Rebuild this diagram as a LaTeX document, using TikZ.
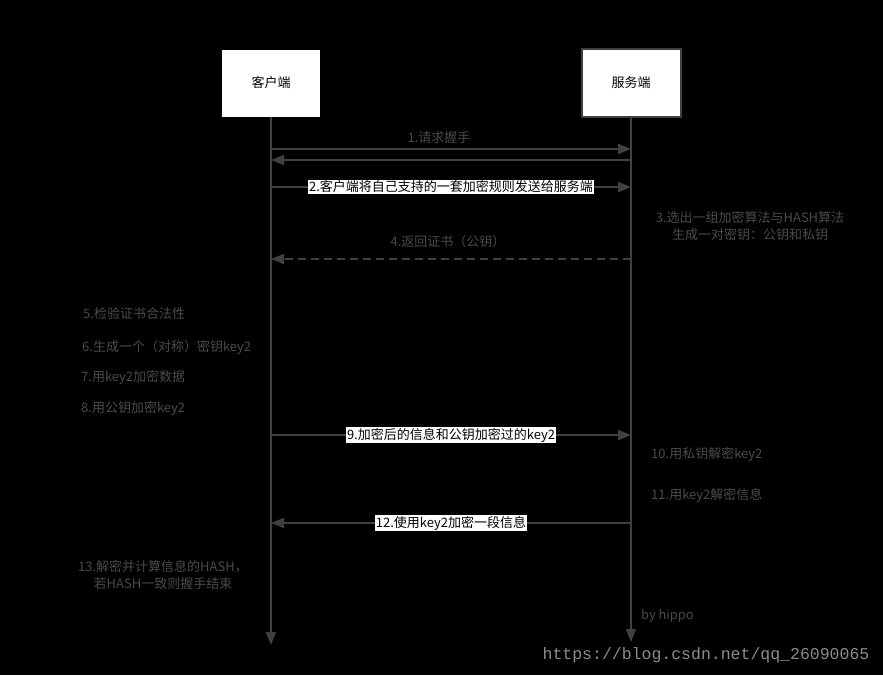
\documentclass[tikz,border=0pt]{standalone}
\usepackage{fontspec}
\newfontfamily\cjk{Noto Sans CJK SC}
\newfontfamily\wmfont{Liberation Mono}
\usetikzlibrary{arrows.meta}
\definecolor{linegray}{RGB}{64,64,64}
\definecolor{textgray}{RGB}{74,74,74}
\definecolor{markgray}{RGB}{140,140,140}

\begin{document}
\begin{tikzpicture}[x=1pt,y=-1pt,>={Triangle[length=13pt,width=10pt]},
    font=\cjk\fontsize{13}{17}\selectfont,
    party/.style={fill=white,text=black,minimum width=98pt,minimum height=67pt,inner sep=0pt},
    msg/.style={linegray,line width=2pt,->},
    tag/.style={fill=white,text=black,inner sep=0.6pt},
    note/.style={text=textgray,inner sep=0pt}]
    % Canvas in pixel units, black background
    \fill[black] (0,0) rectangle (883,675);
    \useasboundingbox (0,0) rectangle (883,675);
    % The two parties
    \node[party] (client) at (271,83) {客户端};
    \node[party,draw=linegray,line width=2pt,minimum width=99pt,minimum height=68pt] (server) at (631,83) {服务端};
    % Lifelines
    \coordinate (clientend) at (271,645);
    \coordinate (serverend) at (631,642);
    \draw[msg] (client.south) -- (clientend);
    \draw[msg] (server.south) -- (serverend);
    % Message end points on the lifelines
    \foreach \n/\y in {1/149,2/160,3/187,4/259,5/435,6/523} {
        \coordinate (c\n) at (271,\y);
        \coordinate (s\n) at (631,\y);
    }
    % Messages
    \draw[msg] (c1) -- (s1) node[midway,note,above=4pt,xshift=-12pt] {1.请求握手};
    \draw[msg] (s2) -- (c2);
    \draw[msg] (c3) -- (s3) node[midway,tag] {2.客户端将自己支持的一套加密规则发送给服务端};
    \draw[msg,dash pattern=on 8pt off 5pt] (s4) -- (c4) node[midway,note,above=10pt,xshift=-3pt] {4.返回证书（公钥）};
    \draw[msg] (c5) -- (s5) node[midway,tag] {9.加密后的信息和公钥加密过的key2};
    \draw[msg] (s6) -- (c6) node[midway,tag] {12.使用key2加密一段信息};
    % Steps done by the server
    \node[note,align=center] (pick) at (750,226) {3.选出一组加密算法与HASH算法\\生成一对密钥：公钥和私钥};
    \node[note,anchor=west] (unlock) at (651,454) {10.用私钥解密key2};
    \node[note,anchor=west] (decode) at (651,495) {11.用key2解密信息};
    % Steps done by the client
    \node[note,anchor=west] (check) at (83,314) {5.检验证书合法性};
    \node[note,anchor=west] (keygen) at (82,347) {6.生成一个（对称）密钥key2};
    \node[note,anchor=west] (encdata) at (81,377) {7.用key2加密数据};
    \node[note,anchor=west] (enckey) at (81,408) {8.用公钥加密key2};
    \node[note,align=center] (finish) at (163,575) {13.解密并计算信息的HASH，\\若HASH一致则握手结束};
    % Signature and watermark
    \node[note,anchor=west,font=\cjk\fontsize{12.8}{15}\selectfont] (sign) at (641,616) {by hippo};
    \node[text=markgray,font=\wmfont\fontsize{16.5}{18}\selectfont,inner sep=0pt] (mark) at (706,655) {https://blog.csdn.net/qq\_26090065};
\end{tikzpicture}
\end{document}
